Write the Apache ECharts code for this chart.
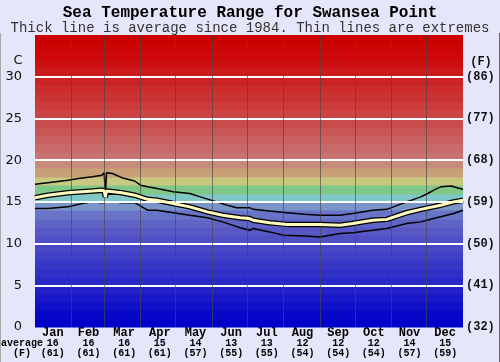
<!DOCTYPE html>
<html><head><meta charset="utf-8">
<script src="https://cdn.jsdelivr.net/npm/echarts@6/dist/echarts.min.js"></script>
<style>html,body{margin:0;padding:0;background:#e6e6fa}#c{width:500px;height:362px}</style>
</head><body><div id="c"></div>
<script>
const months = ['Jan','Feb','Mar','Apr','May','Jun','Jul','Aug','Sep','Oct','Nov','Dec'];
const avgC = [16,16,16,15,14,13,13,12,12,12,14,15];
const avgF = [61,61,61,61,57,55,55,54,54,54,57,59];
const monthEnds = [31,59,90,120,151,181,212,243,273,304,334];
const yTicks = [5,10,15,20,25,30];

// [day of year, °C]
const maxLine = [[0,17.1],[11,17.3],[28,17.6],[37,17.8],[49,18.0],[57,18.2],[59,18.5],[60,15.8],[61,18.5],[66,18.4],[74,17.9],[85,17.5],[90,17.0],[96,16.8],[104,16.6],[118,16.2],[132,16.0],[141,15.6],[155,15.0],[164,14.6],[172,14.3],[183,14.3],[186,14.1],[200,13.9],[215,13.7],[230,13.5],[243,13.4],[260,13.4],[271,13.6],[288,14.0],[300,14.1],[317,15.0],[329,15.6],[335,16.0],[340,16.4],[346,16.8],[355,16.9],[360,16.7],[365,16.5]];
const avgLine = [[0,15.5],[11,15.8],[28,16.1],[49,16.3],[57,16.4],[59,16.3],[60,15.6],[61,16.3],[74,16.1],[85,15.8],[96,15.3],[104,15.2],[118,14.8],[132,14.4],[147,13.8],[160,13.4],[175,13.1],[183,13.0],[186,12.8],[200,12.5],[215,12.3],[230,12.3],[243,12.3],[260,12.2],[271,12.4],[288,12.8],[300,12.9],[317,13.7],[329,14.1],[346,14.6],[357,15.0],[365,15.2]];
const minLine = [[0,14.2],[11,14.2],[28,14.4],[40,14.8],[49,15.0],[57,14.9],[66,15.0],[74,14.9],[85,14.9],[96,14.0],[104,14.0],[118,13.7],[132,13.4],[147,13.1],[160,12.6],[175,11.9],[183,11.6],[186,11.8],[200,11.4],[212,11.0],[230,10.9],[243,10.8],[260,11.2],[271,11.3],[288,11.6],[300,11.8],[317,12.4],[329,12.6],[340,13.0],[357,13.6],[365,14.0]];

// background band colours, one per degree from 0 to 35 (style only)
const bandColors = ['#0000c8','#0808c8','#1010c8','#1818c8','#2020c6','#2828c6','#3030c6','#3838c6','#4040c6','#4848c4','#5050c4','#5858c4','#6064c4','#6874c8','#7a94c8','#80c8c8','#80c888','#c8c880','#c8a078','#c88a7a','#c87474','#c86a6a','#c86060','#c85656','#c84c4c','#cc4444','#cc3c3c','#cc3434','#cc2c2c','#cc2424','#cc1a1a','#cc1010','#cc0808','#cc0404','#cc0000'];
const bands = bandColors.map((c,i)=>[i,i+1]);

const chart = echarts.init(document.getElementById('c'), null, {renderer:'canvas'});
const mono = 'Liberation Mono';
chart.setOption({
  animation:false,
  backgroundColor:'#e6e6fa',
  grid:{left:35,right:37,top:35,bottom:35},
  xAxis:[
    {type:'value',min:0,max:365,show:false},
    {type:'category',data:months,position:'bottom',boundaryGap:true,
     axisLine:{show:false},axisTick:{show:false},splitLine:{show:false},
     axisLabel:{margin:1,interval:0,
       formatter:(v,i)=>'{m|'+v+'}\n{a|'+avgC[i]+'}\n{f|('+avgF[i]+')}',
       rich:{m:{fontFamily:mono,fontWeight:'bold',fontSize:12,lineHeight:10,color:'#000'},
             a:{fontFamily:mono,fontWeight:'bold',fontSize:10,lineHeight:10,color:'#000'},
             f:{fontFamily:mono,fontWeight:'bold',fontSize:10,lineHeight:10,color:'#000'}}}}
  ],
  yAxis:[
    {type:'value',min:0,max:35,interval:5,splitLine:{show:false},axisLine:{show:false},axisTick:{show:false},
     axisLabel:{margin:13,showMaxLabel:false,fontFamily:'DejaVu Sans',fontSize:13,color:'#111'}},
    {type:'value',min:0,max:35,interval:5,position:'right',splitLine:{show:false},axisLine:{show:false},axisTick:{show:false},
     axisLabel:{margin:3,showMaxLabel:false,fontFamily:mono,fontWeight:'bold',fontSize:12,color:'#111',
       formatter:v=>'('+Math.round(v*9/5+32)+')'}}
  ],
  series:[
    {type:'custom',xAxisIndex:0,yAxisIndex:0,z:1,silent:true,data:bands,
     renderItem:(params,api)=>{
       const lo=api.value(0),hi=api.value(1);
       const p1=api.coord([0,hi]),p2=api.coord([365,lo]);
       const y1=Math.round(p1[1]),y2=Math.round(p2[1]);
       return {type:'rect',shape:{x:p1[0],y:y1,width:p2[0]-p1[0],height:y2-y1+0.5},style:{fill:bandColors[params.dataIndex]}};
     },
     markLine:{silent:true,symbol:'none',label:{show:false},animation:false,
       data:[
         ...yTicks.map(v=>({yAxis:v,lineStyle:{color:'#ffffff',width:2,type:'solid'}})),
         ...monthEnds.map(d=>({xAxis:d,lineStyle:{color:'rgba(70,70,70,0.65)',width:1,type:'solid'}}))
       ]}},
    {type:'line',xAxisIndex:0,yAxisIndex:0,z:3,data:maxLine,showSymbol:false,symbol:'none',lineStyle:{color:'#000',width:1.5}},
    {type:'line',xAxisIndex:0,yAxisIndex:0,z:3,data:minLine,showSymbol:false,symbol:'none',lineStyle:{color:'#000',width:1.5}},
    {type:'line',xAxisIndex:0,yAxisIndex:0,z:4,data:avgLine,showSymbol:false,symbol:'none',lineStyle:{color:'#000',width:5.5}},
    {type:'line',xAxisIndex:0,yAxisIndex:0,z:5,data:avgLine,showSymbol:false,symbol:'none',lineStyle:{color:'#fffbbf',width:3}}
  ],
  graphic:[
    {type:'text',left:'center',top:5,style:{text:'Sea Temperature Range for Swansea Point',font:'bold 16px "Liberation Mono"',fill:'#000'}},
    {type:'text',left:'center',top:21,style:{text:'Thick line is average since 1984. Thin lines are extremes',font:'14px "Liberation Mono"',fill:'#333'}},
    {type:'text',x:18,y:61,style:{text:'C',font:'13px "DejaVu Sans"',fill:'#111',textAlign:'center',textVerticalAlign:'middle'}},
    {type:'text',x:481,y:62,style:{text:'(F)',font:'bold 12px "Liberation Mono"',fill:'#111',textAlign:'center',textVerticalAlign:'middle'}},
    {type:'text',x:22,y:343,style:{text:'average',font:'bold 10px "Liberation Mono"',fill:'#000',textAlign:'center',textVerticalAlign:'middle'}},
    {type:'text',x:22,y:353,style:{text:'(F)',font:'bold 10px "Liberation Mono"',fill:'#000',textAlign:'center',textVerticalAlign:'middle'}},
    {type:'line',shape:{x1:499.5,y1:33,x2:499.5,y2:362},style:{stroke:'#666',lineWidth:1}},
    {type:'line',shape:{x1:0.5,y1:33,x2:0.5,y2:362},style:{stroke:'#aaa',lineWidth:1}}
  ]
});
</script></body></html>
